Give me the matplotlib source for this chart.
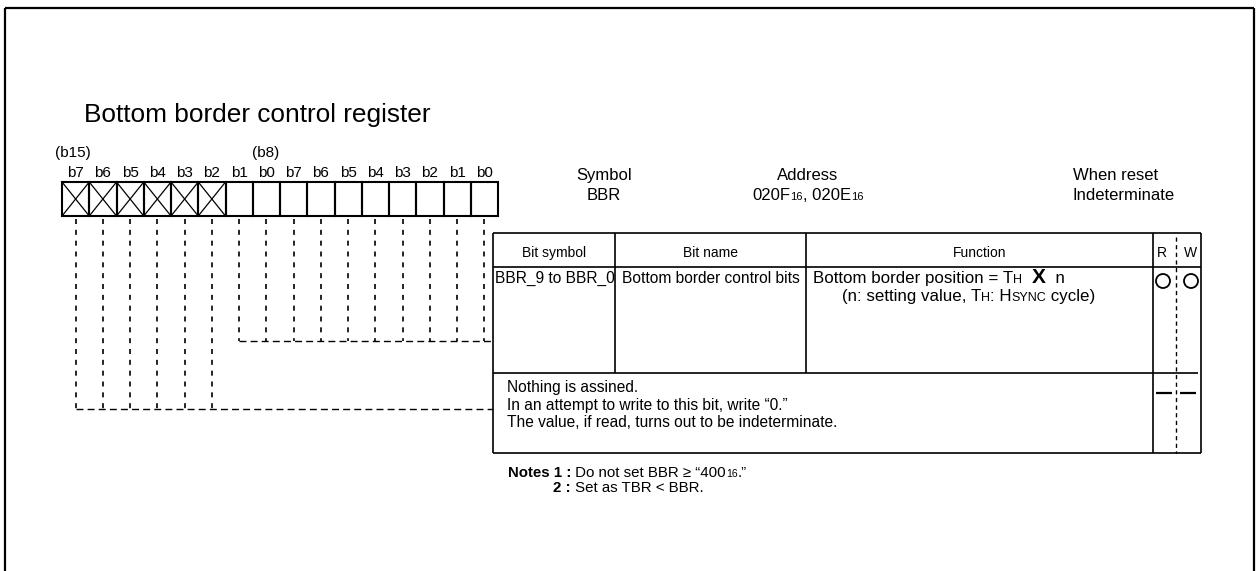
import matplotlib
matplotlib.use("Agg")
import matplotlib.pyplot as plt
from matplotlib.patches import Circle

plt.rcParams['font.family'] = ['Liberation Sans', 'DejaVu Sans']

# ---- content ----
title = "Bottom border control register"
bit_labels = ["b7", "b6", "b5", "b4", "b3", "b2", "b1", "b0",
              "b7", "b6", "b5", "b4", "b3", "b2", "b1", "b0"]
byte_labels = ["(b15)", "(b8)"]
n_reserved = 6            # b15..b10 not assigned
symbol = ["Symbol", "BBR"]
address_title = "Address"
reset = ["When reset", "Indeterminate"]
headers = ["Bit symbol", "Bit name", "Function"]
rw_headers = ["R", "W"]
row1_symbol = "BBR_9 to BBR_0"
row1_name = "Bottom border control bits"
row2_lines = ["Nothing is assined.",
              "In an attempt to write to this bit, write \u201c0.\u201d",
              "The value, if read, turns out to be indeterminate."]

# ---- figure ----
W, H = 1257, 571
fig = plt.figure(figsize=(W / 100, H / 100), dpi=100)
ax = fig.add_axes([0, 0, 1, 1])
ax.set_xlim(0, W)
ax.set_ylim(H, 0)
ax.axis('off')
r = fig.canvas.get_renderer()

def tw(t, size, weight='normal'):
    o = ax.text(0, 0, t + '|', fontsize=size, fontweight=weight)
    a = o.get_window_extent(renderer=r).width
    o.remove()
    o = ax.text(0, 0, '|', fontsize=size, fontweight=weight)
    b = o.get_window_extent(renderer=r).width
    o.remove()
    return a - b

def runs(x, y, parts, ha='left'):
    widths = [tw(t, s, w) for t, s, w in parts]
    total = sum(widths)
    x0 = x - total / 2 if ha == 'center' else x
    for (t, s, w), wd in zip(parts, widths):
        ax.text(x0, y, t, fontsize=s, fontweight=w, va='baseline', ha='left', color='black')
        x0 += wd

def line(xs, ys, lw=1.2, **kw):
    ax.plot(xs, ys, color='black', lw=lw, solid_capstyle='butt', **kw)

# outer frame
line([5, 5], [8, 575], lw=1.6)
line([5, 1254], [8, 8], lw=1.6)
line([1254, 1254], [8, 575], lw=1.6)

# title
ax.text(84, 122, title, fontsize=18.9, va='baseline', ha='left')

# register boxes
bx0, bx1 = 62, 498
by0, by1 = 182, 216
cw = (bx1 - bx0) / 16
for i in range(16):
    xa = bx0 + i * cw
    ax.add_patch(plt.Rectangle((xa, by0), cw, by1 - by0, fill=False, lw=1.5, ec='black'))
    if i < n_reserved:
        line([xa, xa + cw], [by0, by1], lw=0.9)
        line([xa, xa + cw], [by1, by0], lw=0.9)
    ax.text(xa + cw / 2, 177, bit_labels[i], fontsize=11, ha='center', va='baseline')
ax.text(bx0 - 7, 157, byte_labels[0], fontsize=11, ha='left', va='baseline')
ax.text(bx0 + 7 * cw - 1, 157, byte_labels[1], fontsize=11, ha='left', va='baseline')

# dashed leader lines
tx0 = 493
dv = dict(linestyle=(0, (3, 3.5)), lw=1.2)
dh = dict(linestyle=(0, (5, 3)), lw=1.0)
for i in range(16):
    xc = bx0 + i * cw + cw / 2
    ybot = 409 if i < n_reserved else 341
    ax.plot([xc, xc], [219, ybot], color='black', **dv)
ax.plot([bx0 + cw / 2, tx0], [409, 409], color='black', **dh)
ax.plot([bx0 + n_reserved * cw + cw / 2, tx0], [341, 341], color='black', **dh)

# header info
runs(604, 180, [(symbol[0], 12, 'normal')], ha='center')
runs(604, 200, [(symbol[1], 12, 'normal')], ha='center')
runs(808, 180, [(address_title, 12, 'normal')], ha='center')
runs(808, 200, [("020F", 12, 'normal'), ("16", 8, 'normal'), (", 020E", 12, 'normal'),
                ("16", 8, 'normal')], ha='center')
ax.text(1073, 180, reset[0], fontsize=12, va='baseline')
ax.text(1073, 200, reset[1], fontsize=12, va='baseline')

# table
t_top, t_hdr, t_row, t_bot = 233, 267, 373, 453
c1, c2, c3, c4, c5 = 615, 806, 1153, 1176, 1201
line([tx0, c5], [t_top, t_top])
line([tx0, c5], [t_bot, t_bot])
line([tx0, tx0], [t_top, t_bot])
line([c5, c5], [t_top, t_bot])
line([tx0, c5], [t_hdr, t_hdr])
line([tx0, c5 - 3], [t_row, t_row])
line([c1, c1], [t_top, t_row])
line([c2, c2], [t_top, t_row])
line([c3, c3], [t_top, t_bot])
ax.plot([c4, c4], [237, t_bot], color='black', linestyle=(0, (3, 2.5)), lw=1.0)

hy = 257
ax.text((tx0 + c1) / 2, hy, headers[0], fontsize=10, ha='center', va='baseline')
ax.text((c1 + c2) / 2, hy, headers[1], fontsize=10, ha='center', va='baseline')
ax.text((c2 + c3) / 2, hy, headers[2], fontsize=10, ha='center', va='baseline')
ax.text(1162, hy, rw_headers[0], fontsize=10, ha='center', va='baseline')
ax.text(1191, hy, rw_headers[1], fontsize=10, ha='center', va='baseline')

# row 1
fs = 11.2
ffs = 12.2
sfs = 9
ax.text(tx0 + 2, 283, row1_symbol, fontsize=fs, va='baseline')
ax.text(c1 + 7, 283, row1_name, fontsize=fs, va='baseline')
runs(813, 283, [("Bottom border position = T", ffs, 'normal'), ("H", sfs, 'normal'),
                ("  ", ffs, 'normal'), ("X", 15, 'bold'), ("  n", ffs, 'normal')])
runs(842, 301, [("(n: setting value, T", ffs, 'normal'), ("H", sfs, 'normal'),
                (": H", ffs, 'normal'), ("SYNC", sfs, 'normal'), (" cycle)", ffs, 'normal')])
ax.add_patch(Circle((1163, 281), 7, fill=False, lw=1.3, ec='black'))
ax.add_patch(Circle((1191, 281), 7, fill=False, lw=1.3, ec='black'))

# row 2
for k, txt in enumerate(row2_lines):
    ax.text(507, 392 + k * 17.7, txt, fontsize=fs, va='baseline')
line([1156, 1172], [393, 393], lw=1.6)
line([1180, 1196], [393, 393], lw=1.6)

# notes
nfs = 10.8
runs(508, 477, [("Notes 1 :", nfs, 'bold'), (" Do not set BBR \u2265 \u201c400", nfs, 'normal'),
                ("16", 7.5, 'normal'), (".\u201d", nfs, 'normal')])
runs(553, 491.5, [("2 :", nfs, 'bold'), (" Set as TBR < BBR.", nfs, 'normal')])

fig.savefig("out.png", dpi=100)
